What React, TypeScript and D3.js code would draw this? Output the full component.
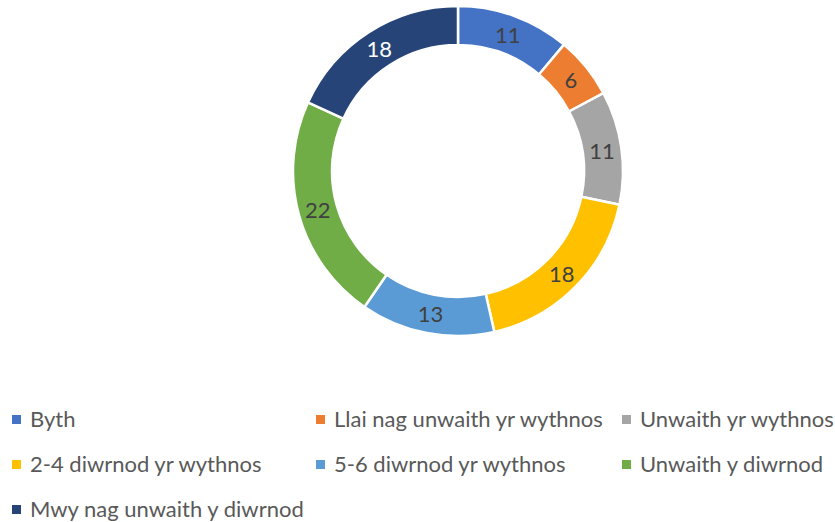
import React from "react";
import * as d3 from "d3";

const categories = [
  "Byth",
  "Llai nag unwaith yr wythnos",
  "Unwaith yr wythnos",
  "2-4 diwrnod yr wythnos",
  "5-6 diwrnod yr wythnos",
  "Unwaith y diwrnod",
  "Mwy nag unwaith y diwrnod",
];
const values = [11, 6, 11, 18, 13, 22, 18];
const colors = ["#4472C4", "#ED7D31", "#A5A5A5", "#FFC000", "#5B9BD5", "#70AD47", "#264478"];
const labelColors = ["#404040", "#404040", "#404040", "#404040", "#404040", "#404040", "#FFFFFF"];

const W = 835;
const H = 522;
const cx = 458;
const cy = 171;
const outerR = 165;
const innerR = 126;

const legendCols = [12, 316, 622];
const legendRows = [427, 472, 517];

export default function App() {
  const pie = d3.pie<number>().sort(null).value((d) => d)(values);
  const arc = d3.arc<d3.PieArcDatum<number>>().innerRadius(innerR).outerRadius(outerR);
  const labelArc = d3
    .arc<d3.PieArcDatum<number>>()
    .innerRadius((innerR + outerR) / 2)
    .outerRadius((innerR + outerR) / 2);

  return (
    <svg
      width={W}
      height={H}
      style={{ position: "absolute", left: 0, top: 0, background: "#fff" }}
      fontFamily="Lato, 'Open Sans', sans-serif"
    >
      <g transform={`translate(${cx},${cy})`}>
        {pie.map((p, i) => (
          <path key={i} d={arc(p) || ""} fill={colors[i]} stroke="#fff" strokeWidth={2.5} />
        ))}
        {pie.map((p, i) => {
          const [x, y] = labelArc.centroid(p);
          return (
            <text
              key={"l" + i}
              x={x}
              y={y}
              textAnchor="middle"
              dominantBaseline="central"
              fontSize={22}
              fill={labelColors[i]}
            >
              {values[i]}
            </text>
          );
        })}
      </g>
      <g>
        {categories.map((c, i) => {
          const col = i % 3;
          const row = Math.floor(i / 3);
          const x = legendCols[col];
          const y = legendRows[row];
          return (
            <g key={c}>
              <rect x={x} y={y - 12} width={9} height={9} fill={colors[i]} />
              <text x={x + 18} y={y} fontSize={22} fill="#595959">
                {c}
              </text>
            </g>
          );
        })}
      </g>
    </svg>
  );
}
